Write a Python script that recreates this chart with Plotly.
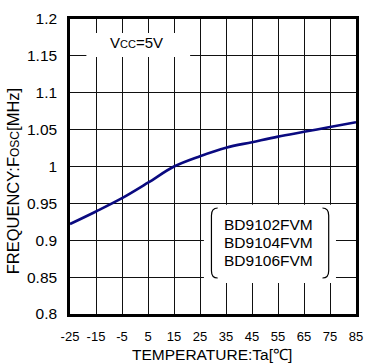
import plotly.graph_objects as go

temperature = [-25, -15, -5, 5, 15, 25, 35, 45, 55, 65, 75, 85]
frequency = [0.922, 0.939, 0.957, 0.978, 1.000, 1.014, 1.0255, 1.033, 1.0405, 1.047, 1.0535, 1.060]

x_ticks = [-25, -15, -5, 5, 15, 25, 35, 45, 55, 65, 75, 85]
x_ticktext = ["-25", "-15", "-5", "5", "15", "25", "35", "45", "55", "65", "75", "85"]
y_ticks = [0.8, 0.85, 0.9, 0.95, 1.0, 1.05, 1.1, 1.15, 1.2]
y_ticktext = ["0.8", "0.85", "0.9", "0.95", "1", "1.05", "1.1", "1.15", "1.2"]
device_names = ["BD9102FVM", "BD9104FVM", "BD9106FVM"]

FONT = "Liberation Sans, Arial, sans-serif"
X_RANGE = [-25, 85]
Y_RANGE = [0.8, 1.2]

fig = go.Figure()

fig.add_trace(go.Scatter(x=temperature, y=frequency, mode="lines",
                         line=dict(color="#0a0a80", width=2.6, shape="spline", smoothing=1.0),
                         showlegend=False, hoverinfo="skip"))

# white boxes over gridlines (behind the labels)
fig.add_shape(type="rect", x0=-18.7, x1=21.2, y0=1.1485, y1=1.181, xref="x", yref="y",
              fillcolor="white", line=dict(width=0), layer="between")
fig.add_shape(type="rect", x0=26.5, x1=77.3, y0=0.842, y1=0.948, xref="x", yref="y",
              fillcolor="white", line=dict(width=0), layer="between")

# brackets around the device list
xl, xr, yt, yb = 29.4, 74.5, 0.9437, 0.8488
rx, ry = 2.4, 0.010
fig.add_shape(type="path", xref="x", yref="y", layer="above",
              path=f"M {xl+rx},{yt} Q {xl},{yt} {xl},{yt-ry} L {xl},{yb+ry} Q {xl},{yb} {xl+rx},{yb}",
              line=dict(color="black", width=1.2))
fig.add_shape(type="path", xref="x", yref="y", layer="above",
              path=f"M {xr-rx},{yt} Q {xr},{yt} {xr},{yt-ry} L {xr},{yb+ry} Q {xr},{yb} {xr-rx},{yb}",
              line=dict(color="black", width=1.2))

for i, name in enumerate(device_names):
    fig.add_annotation(x=51.4, y=0.9207 - i * 0.0242, xref="x", yref="y", showarrow=False,
                       text=name, font=dict(family=FONT, size=15.5, color="black"))

fig.add_annotation(x=0.4, y=1.1675, xref="x", yref="y", showarrow=False,
                   text="V<span style='font-size:11px'>CC</span>=5V",
                   font=dict(family=FONT, size=15, color="black"))

# axis titles
fig.add_annotation(x=0.498, y=-0.1356, xref="paper", yref="paper", showarrow=False,
                   xanchor="center", yanchor="middle",
                   text="TEMPERATURE:Ta[℃]", font=dict(family=FONT, size=15.5, color="black"))
fig.add_annotation(x=-0.198, y=0.451, xref="paper", yref="paper", showarrow=False,
                   xanchor="center", yanchor="middle", textangle=-90,
                   text="FREQUENCY:F<span style='font-size:12px'>OSC</span>[MHz]",
                   font=dict(family=FONT, size=16.5, color="black"))

fig.update_layout(
    width=373, height=363,
    margin=dict(l=70, r=10, t=19, b=49),
    paper_bgcolor="white", plot_bgcolor="white",
    font=dict(family=FONT, size=13, color="black"),
    xaxis=dict(range=X_RANGE, tickvals=x_ticks, ticktext=x_ticktext, ticks="",
               showgrid=True, gridcolor="#111", gridwidth=1, showline=True,
               linecolor="black", linewidth=2.5, mirror=True, zeroline=False,
               tickfont=dict(size=13), ticklabelstandoff=9),
    yaxis=dict(range=Y_RANGE, tickvals=y_ticks, ticktext=y_ticktext, ticks="",
               showgrid=True, gridcolor="#111", gridwidth=1, showline=True,
               linecolor="black", linewidth=2.5, mirror=True, zeroline=False,
               tickfont=dict(size=15.5), ticklabelstandoff=7),
)

fig.write_html("out.html")
